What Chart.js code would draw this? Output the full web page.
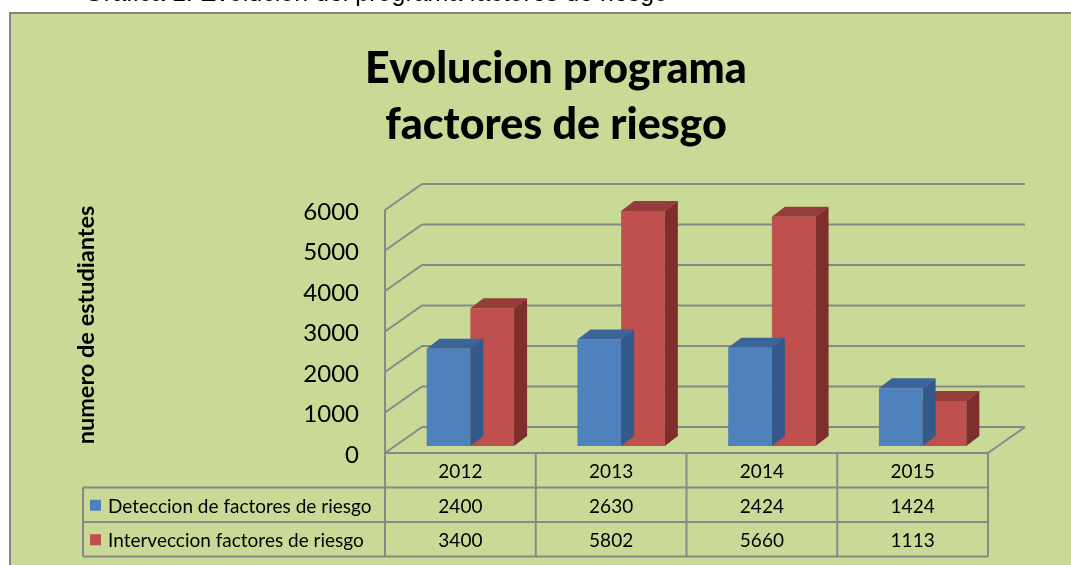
<!DOCTYPE html>
<html>
<head>
<meta charset="utf-8">
<script src="https://cdn.jsdelivr.net/npm/chart.js@4/dist/chart.umd.min.js"></script>
<style>
  html, body { margin: 0; padding: 0; background: #fff; }
  canvas { display: block; }
</style>
</head>
<body>
<canvas id="riesgoChart" width="1071" height="565"></canvas>
<script>
/* Evolucion programa factores de riesgo — columnas 3D con tabla de datos */

const years = ['2012', '2013', '2014', '2015'];
const deteccion = [2400, 2630, 2424, 1424];
const intervencion = [3400, 5802, 5660, 1113];
const seriesNames = ['Deteccion de factores de riesgo', 'Interveccion factores de riesgo'];
const chartTitle = ['Evolucion programa', 'factores de riesgo'];
const axisTitle = 'numero de estudiantes';
const caption = 'Gráfica 1. Evolución del programa factores de riesgo';

const W = 1071;
const H = 565;
const GREEN = '#C9DA97';
const LINE = '#888888';
const FRONT = { dx: -10, dy: 7 };     // front wall / table plane, relative to bar plane
const BACK = { dx: 27, dy: -19 };     // back wall plane
const BAR_DEPTH = { dx: 13, dy: -10 };
const faceColors = [
    { top: '#3B649A', side: '#33588A' },
    { top: '#963C3A', side: '#7E2E2C' }
];
const seriesColors = ['#4F81BD', '#C0504D'];

function line(ctx, x1, y1, x2, y2) {
    ctx.beginPath();
    ctx.moveTo(x1, y1);
    ctx.lineTo(x2, y2);
    ctx.stroke();
}

const excelFrame = {
    id: 'excelFrame',
    beforeDatasetsDraw(chart) {
        const { ctx, chartArea: ca, scales: { x, y } } = chart;
        ctx.save();

        // page + chart background
        ctx.fillStyle = '#fff';
        ctx.fillRect(0, 0, W, H);
        ctx.fillStyle = '#000';
        ctx.font = '25px "Liberation Sans"';
        ctx.textAlign = 'right';
        ctx.textBaseline = 'alphabetic';
        ctx.fillText(caption, 668, 1);

        ctx.fillStyle = GREEN;
        ctx.fillRect(10, 13, W - 10, H - 13);
        ctx.strokeStyle = '#858585';
        ctx.lineWidth = 2;
        ctx.beginPath();
        ctx.moveTo(10, H + 5);
        ctx.lineTo(10, 13);
        ctx.lineTo(W + 5, 13);
        ctx.stroke();

        // title
        ctx.fillStyle = '#000';
        ctx.textAlign = 'center';
        ctx.font = '900 43px Lato';
        ctx.fillText(chartTitle[0], 556, 83);
        ctx.fillText(chartTitle[1], 556, 139);

        // walls, gridlines and tick labels
        ctx.strokeStyle = LINE;
        ctx.lineWidth = 2;
        ctx.font = '24px Lato';
        ctx.textAlign = 'right';
        ctx.textBaseline = 'middle';
        y.ticks.forEach((t) => {
            const yy = y.getPixelForValue(t.value);
            line(ctx, ca.left + BACK.dx, yy + BACK.dy, ca.right + BACK.dx, yy + BACK.dy);
            line(ctx, ca.left + FRONT.dx, yy + FRONT.dy, ca.left + BACK.dx, yy + BACK.dy);
            ctx.fillText(String(t.value), 359, yy + FRONT.dy + 2);
        });

        const base = y.getPixelForValue(0);
        const topF = y.getPixelForValue(y.max) + FRONT.dy;
        const fl = ca.left + FRONT.dx;
        const fr = ca.right + FRONT.dx;
        const tTop = base + FRONT.dy;
        const rowH = 34.5;
        const tBottom = tTop + rowH * 3;
        const legendLeft = 83;

        // floor right edge
        line(ctx, fr, tTop, ca.right + BACK.dx, base + BACK.dy);

        // data table grid
        line(ctx, fl, topF, fl, tBottom);
        line(ctx, fl, tTop, fr, tTop);
        line(ctx, legendLeft, tTop + rowH, fr, tTop + rowH);
        line(ctx, legendLeft, tTop + rowH * 2, fr, tTop + rowH * 2);
        line(ctx, legendLeft, tBottom, fr, tBottom);
        line(ctx, legendLeft, tTop + rowH, legendLeft, tBottom);
        const cat = (ca.right - ca.left) / years.length;
        for (let i = 1; i <= years.length; i++) {
            line(ctx, fl + i * cat, tTop, fl + i * cat, tBottom);
        }

        // table text
        ctx.fillStyle = '#000';
        ctx.font = '19px Lato';
        ctx.textAlign = 'center';
        const rows = [years, deteccion, intervencion];
        rows.forEach((row, r) => {
            const cy = tTop + rowH * r + rowH / 2 + 2;
            row.forEach((v, i) => {
                ctx.fillText(String(v), x.getPixelForValue(i) + FRONT.dx, cy);
            });
        });
        ctx.textAlign = 'left';
        seriesNames.forEach((name, s) => {
            const cy = tTop + rowH * (s + 1) + rowH / 2;
            ctx.fillStyle = seriesColors[s];
            ctx.fillRect(90, cy - 5, 11, 11);
            ctx.fillStyle = '#000';
            ctx.fillText(name, 108, cy + 2);
        });

        // axis title
        ctx.save();
        ctx.translate(86, 325);
        ctx.rotate(-Math.PI / 2);
        ctx.font = 'bold 23.5px Lato';
        ctx.textAlign = 'center';
        ctx.fillText(axisTitle, 0, 0);
        ctx.restore();

        ctx.restore();
    },
    afterDatasetDraw(chart, args) {
        const { ctx } = chart;
        const colors = faceColors[args.index];
        ctx.save();
        args.meta.data.forEach((bar) => {
            const { x, y, base, width } = bar.getProps(['x', 'y', 'base', 'width'], true);
            const x0 = x - width / 2;
            const x1 = x + width / 2;
            ctx.fillStyle = colors.top;
            ctx.beginPath();
            ctx.moveTo(x0, y);
            ctx.lineTo(x1, y);
            ctx.lineTo(x1 + BAR_DEPTH.dx, y + BAR_DEPTH.dy);
            ctx.lineTo(x0 + BAR_DEPTH.dx, y + BAR_DEPTH.dy);
            ctx.closePath();
            ctx.fill();
            ctx.fillStyle = colors.side;
            ctx.beginPath();
            ctx.moveTo(x1, y);
            ctx.lineTo(x1 + BAR_DEPTH.dx, y + BAR_DEPTH.dy);
            ctx.lineTo(x1 + BAR_DEPTH.dx, base + BAR_DEPTH.dy);
            ctx.lineTo(x1, base);
            ctx.closePath();
            ctx.fill();
        });
        ctx.restore();
    }
};

new Chart(document.getElementById('riesgoChart').getContext('2d'), {
    type: 'bar',
    data: {
        labels: years,
        datasets: [
            { label: seriesNames[0], data: deteccion, backgroundColor: seriesColors[0] },
            { label: seriesNames[1], data: intervencion, backgroundColor: seriesColors[1] }
        ]
    },
    options: {
        responsive: false,
        animation: false,
        layout: { padding: { left: 395, right: 73, top: 203, bottom: 119 } },
        datasets: { bar: { categoryPercentage: 0.58, barPercentage: 1, borderWidth: 0 } },
        plugins: {
            legend: { display: false },
            title: { display: false },
            tooltip: { enabled: false }
        },
        scales: {
            x: { display: false },
            y: { display: false, min: 0, max: 6000, ticks: { stepSize: 1000 } }
        }
    },
    plugins: [excelFrame]
});
</script>
</body>
</html>
